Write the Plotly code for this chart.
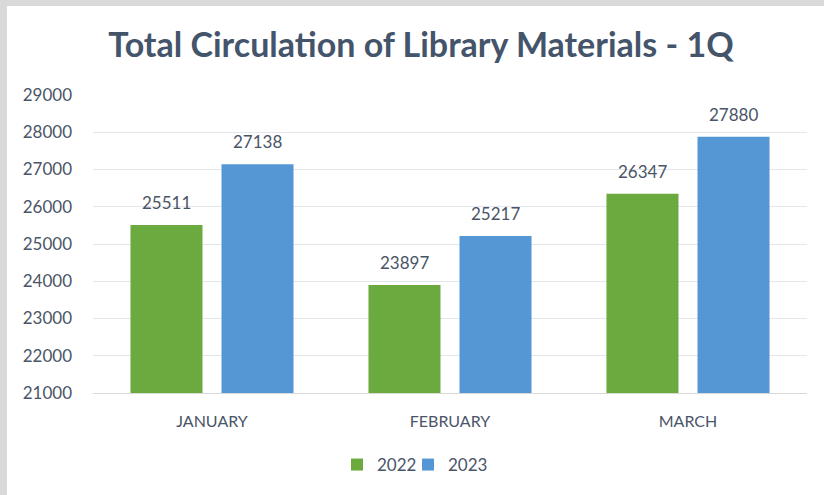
import plotly.graph_objects as go

months = ["JANUARY", "FEBRUARY", "MARCH"]
years = ["2022", "2023"]
values_2022 = [25511, 23897, 26347]
values_2023 = [27138, 25217, 27880]
y_ticks = [21000, 22000, 23000, 24000, 25000, 26000, 27000, 28000, 29000]

TEXT = "#4a5568"
FONT = "Lato"
colors = {"2022": "#6AAA3E", "2023": "#5597D5"}
series = {"2022": values_2022, "2023": values_2023}
legends = {"2022": "legend", "2023": "legend2"}

fig = go.Figure()
for yr in years:
    fig.add_trace(go.Bar(
        name=yr, x=months, y=series[yr], legend=legends[yr],
        marker=dict(color=colors[yr], line=dict(width=0)),
    ))

# data labels above bars
for i, yr in enumerate(years):
    shift = -45.5 if i == 0 else 45.5
    for m, v in zip(months, series[yr]):
        fig.add_annotation(x=m, y=v, text=str(v), showarrow=False,
                           xshift=shift, yshift=10, yanchor="bottom",
                           font=dict(family=FONT, size=17, color=TEXT))

L, R, T, B = 93, 17, 95, 102
W, H = 824, 495
pw, ph = W - L - R, H - T - B
def px(x):
    return (x - L) / pw
def py(y):
    return (H - B - y) / ph

# grey frame strips
fig.add_shape(type="rect", xref="paper", yref="paper", x0=px(0), x1=px(7),
              y0=py(H), y1=py(0), fillcolor="#D9D9D9", line=dict(width=0), layer="below")
fig.add_shape(type="rect", xref="paper", yref="paper", x0=px(0), x1=px(W),
              y0=py(6), y1=py(0), fillcolor="#D9D9D9", line=dict(width=0), layer="below")

leg_common = dict(orientation="h", xanchor="left", y=py(465), yanchor="middle",
                  font=dict(family=FONT, size=17, color=TEXT), itemwidth=30,
                  bgcolor="rgba(0,0,0,0)")

fig.update_layout(
    width=W, height=H,
    margin=dict(l=L, r=R, t=T, b=B, pad=0),
    paper_bgcolor="white", plot_bgcolor="white",
    barmode="group", bargap=0.235, bargroupgap=0.209,
    title=dict(text="<b>Total Circulation of Library Materials - 1Q</b>",
               xref="container", x=421 / W, xanchor="center",
               yref="container", y=1 - 45 / H, yanchor="middle",
               font=dict(family=FONT, size=34, color="#44546A")),
    font=dict(family=FONT, color=TEXT),
    xaxis=dict(showline=True, linecolor="#D9D9D9", linewidth=1, ticks="",
               tickfont=dict(family=FONT, size=16, color=TEXT),
               ticklabelstandoff=14),
    yaxis=dict(range=[21000, 29000], tickvals=y_ticks,
               ticktext=[str(v) for v in y_ticks], showgrid=True,
               gridcolor="#E3E6EB", gridwidth=1, zeroline=False,
               tickfont=dict(family=FONT, size=17, color=TEXT),
               ticklabelstandoff=20),
    legend=dict(x=px(337), **leg_common),
    legend2=dict(x=px(408), **leg_common),
    showlegend=True,
)

fig.write_html("out.html", config={"displayModeBar": False},
               post_script="document.body.style.margin='0';document.body.style.overflow='hidden';")
